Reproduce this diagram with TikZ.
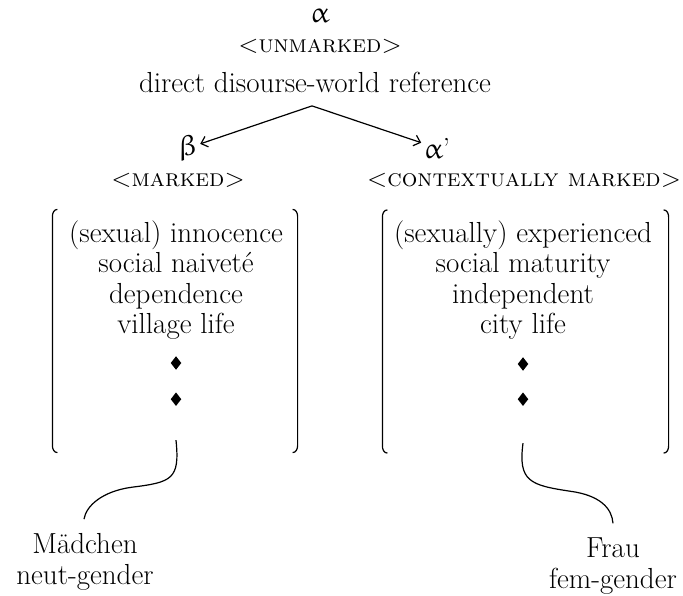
\documentclass[tikz,border=0pt]{standalone}
\usepackage{upgreek}
\usepackage{tikz}
\usetikzlibrary{positioning,arrows.meta,shapes.geometric}

\begin{document}
\begin{tikzpicture}[x=1pt,y=1pt,>={Straight Barb[length=6pt,width=11pt]},line width=1.2pt,
  font=\fontsize{29}{30.5}\selectfont,
  label node/.style={inner sep=2pt},
  caps node/.style={inner sep=2pt,font=\fontsize{24.5}{28}\selectfont\scshape},
  list node/.style={align=center,inner sep=0pt,anchor=north},
  dot/.style={diamond,fill=black,inner sep=0pt,minimum width=11pt,minimum height=14pt},
  bracket box/.style={minimum width=#1,minimum height=242pt,inner sep=0pt}]
  \useasboundingbox (0,0) rectangle (683,-596);
  % top of the tree
  \node[label node] (alpha)    at (320,-16)  {$\upalpha$};
  \node[caps node]  (unmarked) at (320,-46)  {<unmarked>};
  \node[label node] (ref)      at (315,-82)  {direct disourse-world reference};
  \coordinate (fork) at ([xshift=-3pt,yshift=-11pt]ref.south);
  % the two branches
  \node[label node] (beta)    at (188,-148) {$\upbeta$};
  \node[label node] (alphap)  at (437,-148) {$\upalpha$’};
  \node[caps node]  (marked)  at (178,-180) {<marked>};
  \node[caps node]  (cmarked) at (524,-180) {<contextually marked>};
  \draw[->] (fork) -- (beta);
  \draw[->] (fork) -- (alphap);
  % feature lists
  \node[bracket box=244pt] (lbox) at (175,-331) {};
  \node[bracket box=285pt] (rbox) at (525.5,-331.5) {};
  \node[list node] (lfeat) at (176,-220) {(sexual) innocence\\social naiveté\\dependence\\village life};
  \node[list node] (rfeat) at (523,-220) {(sexually) experienced\\social maturity\\independent\\city life};
  \node[dot] (ldot1) at (176,-363) {};
  \node[dot] (ldot2) [below=21pt of ldot1] {};
  \node[dot] (rdot1) at (523,-364) {};
  \node[dot] (rdot2) [below=20pt of rdot1] {};
  \foreach \b in {lbox,rbox}{
    \draw ([xshift=5pt]\b.north west) to[out=180,in=90] ([yshift=-7pt]\b.north west)
      -- ([yshift=7pt]\b.south west) to[out=-90,in=180] ([xshift=5pt]\b.south west);
    \draw ([xshift=-5pt]\b.north east) to[out=0,in=90] ([yshift=-7pt]\b.north east)
      -- ([yshift=7pt]\b.south east) to[out=-90,in=0] ([xshift=-5pt]\b.south east);
  }
  % the words
  \node[label node,align=center] (maedchen) at (85,-562) {Mädchen\\neut-gender};
  \node[label node,align=center] (frau)     at (613,-566) {Frau\\fem-gender};
  \coordinate (lhook) at ([yshift=-41pt]ldot2.center);
  \coordinate (rhook) at ([yshift=-44pt]rdot2.center);
  \coordinate (lfoot) at ([xshift=-1pt,yshift=12pt]maedchen.north);
  \coordinate (rfoot) at ([yshift=12pt]frau.north);
  \draw (lhook) .. controls +(4,-39) and +(40,5) .. ++(-44,-47)
                .. controls +(-30,-4) and +(2,13) .. (lfoot);
  \draw (rhook) .. controls +(-5,-38) and +(-40,6) .. ++(47,-48)
                .. controls +(30,-4) and +(-1,15) .. (rfoot);
\end{tikzpicture}
\end{document}
